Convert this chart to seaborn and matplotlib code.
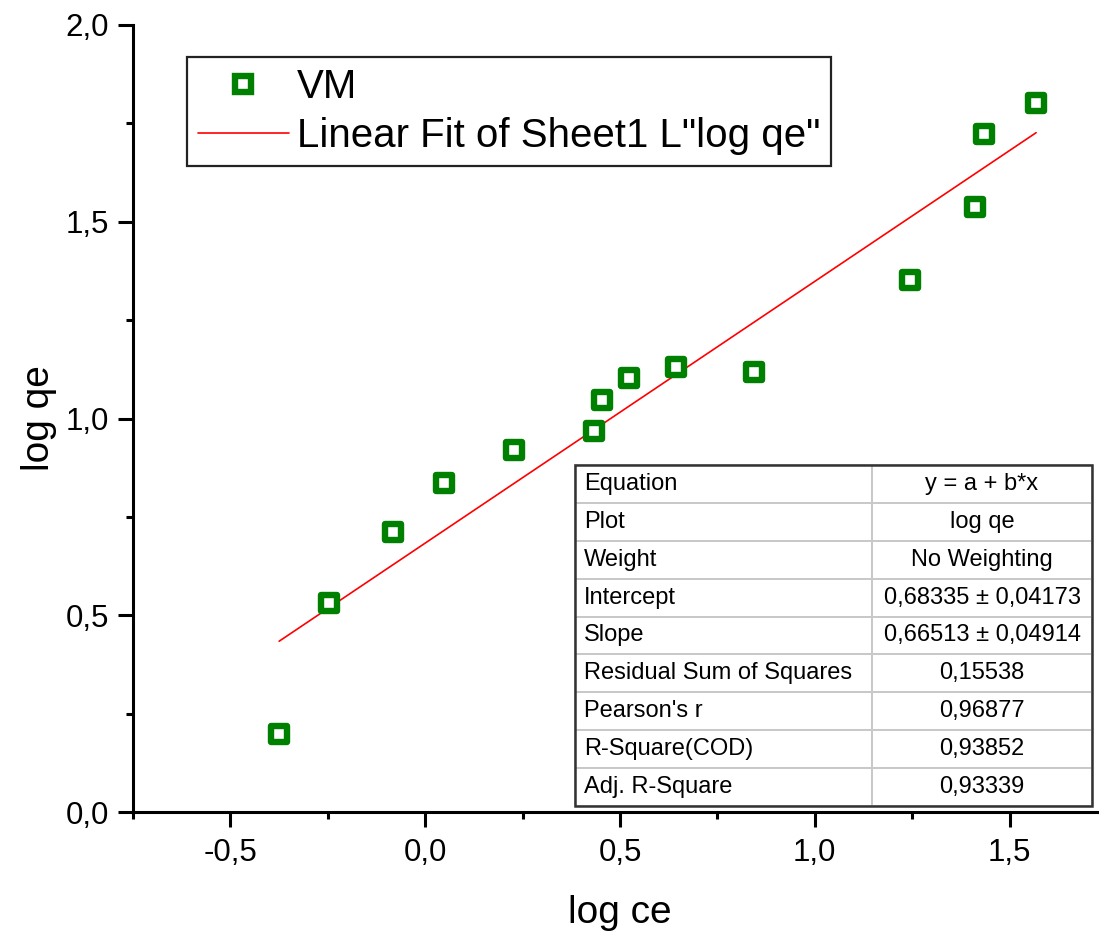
import matplotlib
matplotlib.use("Agg")
import numpy as np
import pandas as pd
import seaborn as sns
import matplotlib.pyplot as plt
from matplotlib.lines import Line2D
from matplotlib.patches import Rectangle
from matplotlib.ticker import FuncFormatter, AutoMinorLocator, FixedLocator

# Freundlich isotherm data (log scale)
log_ce = [-0.375, -0.247, -0.082, 0.049, 0.229, 0.432, 0.455, 0.524, 0.643, 0.843, 1.244, 1.411, 1.434, 1.568]
log_qe = [0.198, 0.532, 0.712, 0.837, 0.919, 0.967, 1.046, 1.102, 1.132, 1.117, 1.351, 1.537, 1.723, 1.802]

# Linear fit results
intercept = 0.68335
slope = 0.66513

table_labels = ["Equation", "Plot", "Weight", "Intercept", "Slope",
                "Residual Sum of Squares", "Pearson's r", "R-Square(COD)", "Adj. R-Square"]
table_values = ["y = a + b*x", "log qe", "No Weighting", "0,68335 \u00b1 0,04173",
                "0,66513 \u00b1 0,04914", "0,15538", "0,96877", "0,93852", "0,93339"]

x_ticks = [-0.5, 0.0, 0.5, 1.0, 1.5]
y_ticks = [0.0, 0.5, 1.0, 1.5, 2.0]

series_label = "VM"
fit_label = "Linear Fit of Sheet1 L\"log qe\""

GREEN = "#008000"
RED = "#ff0000"

sns.set_style("ticks")
plt.rcParams["font.family"] = ["Liberation Sans", "DejaVu Sans"]
plt.rcParams["text.color"] = "black"
plt.rcParams["axes.labelcolor"] = "black"

W, H = 1099, 936
fig = plt.figure(figsize=(W / 100, H / 100), dpi=100)
ax = fig.add_axes([133 / W, 1 - 812 / H, 974 / W, 787 / H])

df = pd.DataFrame({"log ce": log_ce, "log qe": log_qe})
x_fit = np.array([min(log_ce), max(log_ce)])
fit_df = pd.DataFrame({"log ce": x_fit, "log qe": intercept + slope * x_fit})

sns.lineplot(data=fit_df, x="log ce", y="log qe", ax=ax, color=RED, lw=1.2, zorder=2)
sns.scatterplot(data=df, x="log ce", y="log qe", ax=ax, marker="s", s=12 ** 2,
                facecolor="white", edgecolor=GREEN, linewidth=4.6, zorder=3)

ax.set_xlim(-0.75, 1.75)
ax.set_ylim(0.0, 2.0)
ax.xaxis.set_major_locator(FixedLocator(x_ticks))
ax.yaxis.set_major_locator(FixedLocator(y_ticks))
ax.xaxis.set_minor_locator(AutoMinorLocator(2))
ax.yaxis.set_minor_locator(AutoMinorLocator(2))
comma = FuncFormatter(lambda v, p: f"{v:.1f}".replace(".", ","))
ax.xaxis.set_major_formatter(comma)
ax.yaxis.set_major_formatter(comma)

sns.despine(ax=ax)
for side in ("left", "bottom"):
    ax.spines[side].set_linewidth(2.2)
    ax.spines[side].set_color("black")
ax.tick_params(axis="both", which="major", direction="out", length=10.5, width=2.2,
               labelsize=22.5, color="black", labelcolor="black")
ax.tick_params(axis="x", which="major", pad=8)
ax.tick_params(axis="y", which="major", pad=7)
ax.tick_params(axis="both", which="minor", direction="out", length=5, width=2.2, color="black")

ax.set_xlabel("log ce", fontsize=28, labelpad=20, color="black")
ax.set_ylabel("log qe", fontsize=28, labelpad=6, color="black")

handles = [
    Line2D([], [], marker="s", ls="none", mfc="white", mec=GREEN, ms=12, mew=4.6),
    Line2D([], [], color=RED, lw=1.2),
]
leg = ax.legend(handles, [series_label, fit_label], loc="upper left",
                bbox_to_anchor=((187 - 133) / 974, (812 - 57) / 787), borderaxespad=0,
                fontsize=29, frameon=True, fancybox=False, framealpha=1,
                edgecolor="#222222", handlelength=2.25, handletextpad=0.2,
                borderpad=0.27, labelspacing=0.27)
leg.get_frame().set_linewidth(1.6)
for t in leg.get_texts():
    t.set_color("black")

# Fit statistics table
tx0, tx1 = (575 - 133) / 974, (1092 - 133) / 974
ty0, ty1 = (812 - 806) / 787, (812 - 465) / 787
tw, th = tx1 - tx0, ty1 - ty0
c0 = (872 - 575) / (1092 - 575)
tbl = ax.table(cellText=[[a, b] for a, b in zip(table_labels, table_values)],
               colWidths=[c0 * tw, (1 - c0) * tw],
               bbox=[tx0, ty0, tw, th], cellLoc="left", zorder=5)
tbl.auto_set_font_size(False)
tbl.set_fontsize(17)
for (r, c), cell in tbl.get_celld().items():
    cell.set_edgecolor("#c8c8c8")
    cell.set_linewidth(1.4)
    cell.set_facecolor("white")
    cell.PAD = 0.03
    txt = cell.get_text()
    txt.set_color("black")
    if c == 1:
        txt.set_horizontalalignment("center")
ax.add_patch(Rectangle((tx0, ty0), tw, th, transform=ax.transAxes, fill=False,
                       edgecolor="#333333", lw=1.8, zorder=6, clip_on=False))

fig.savefig("out.png", dpi=100)
